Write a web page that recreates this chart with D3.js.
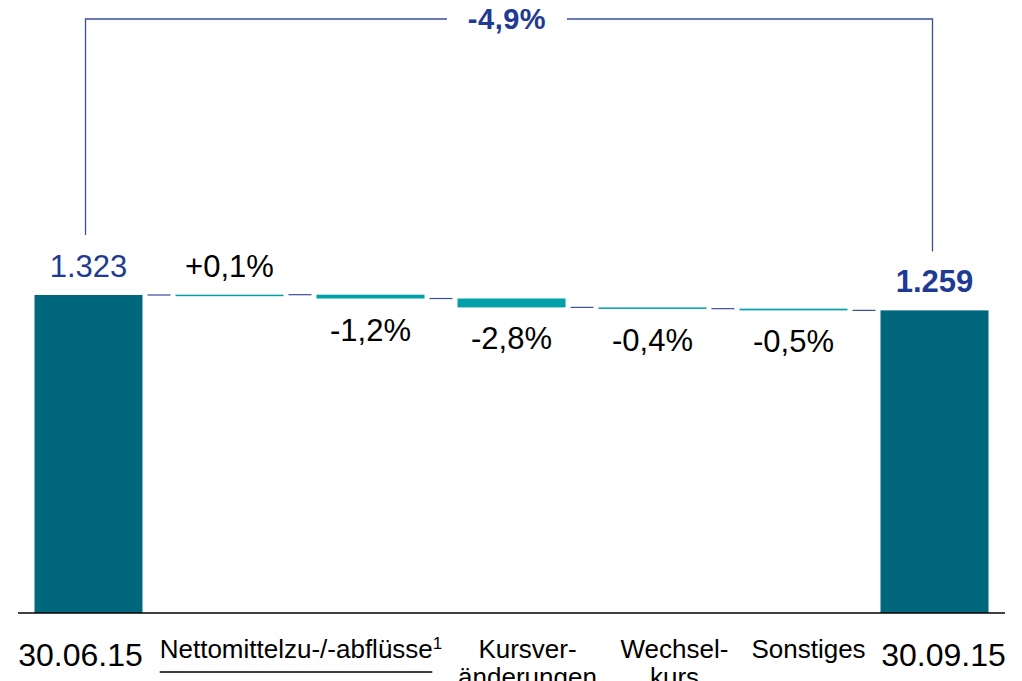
<!DOCTYPE html>
<html>
<head>
<meta charset="utf-8">
<script src="https://cdn.jsdelivr.net/npm/d3@7"></script>
<style>
  body { margin: 0; background: #fff; }
  svg text { font-family: Arial, "Liberation Sans", sans-serif; }
</style>
</head>
<body>
<div id="chart"></div>
<script>
// waterfall: AuM 30.06.15 -> 30.09.15

var barKeys   = ["start", "netto1", "netto2", "kurs", "fx", "sonst", "end"];
var startValue = 1323;
var endValue   = 1259;
var deltas     = [1.3, -15.9, -37.0, -5.3, -7.1];
var deltaLabels = ["+0,1%", "-1,2%", "-2,8%", "-0,4%", "-0,5%"];
var totalLabels = ["1.323", "1.259"];
var totalChange = "-4,9%";

// x-axis category labels (lines), and which bars each one sits under
var catLabels = [
  { lines: ["30.06.15"], bars: ["start"], big: true },
  { lines: ["Nettomittelzu-/-abflüsse"], sup: "1", bars: ["netto1", "netto2"], underline: true },
  { lines: ["Kursver-", "änderungen"], bars: ["kurs"] },
  { lines: ["Wechsel-", "kurs"], bars: ["fx"] },
  { lines: ["Sonstiges"], bars: ["sonst"] },
  { lines: ["30.09.15"], bars: ["end"], big: true }
];
// small horizontal nudges of the axis labels (layout only)
var catNudge = [-8, 1, 16, 22, 15, 9];

var width = 1022, height = 681;
var baseY = 613;

var svg = d3.select("#chart").append("svg")
    .attr("width", width)
    .attr("height", height);

var x = d3.scaleBand()
    .domain(barKeys)
    .range([18, 1005])
    .paddingInner(0.234)
    .paddingOuter(0.117);

var y = d3.scaleLinear()
    .domain([0, startValue])
    .range([baseY, 295]);

// build running totals
var rows = [];
var run = startValue;
rows.push({ key: "start", y0: 0, y1: startValue, total: true, label: totalLabels[0] });
deltas.forEach(function(d, i) {
  var from = run;
  run = run + d;
  rows.push({ key: barKeys[i + 1], y0: from, y1: run, delta: d, total: false, label: deltaLabels[i] });
});
rows.push({ key: "end", y0: 0, y1: endValue, total: true, label: totalLabels[1] });

var teal = "#00677c", aqua = "#00a0a8", blue = "#1f3a93", lineBlue = "#3a4e9e";

// bars
svg.selectAll(".bar").data(rows).enter().append("rect")
    .attr("class", "bar")
    .attr("x", function(d) { return x(d.key); })
    .attr("width", x.bandwidth())
    .attr("y", function(d) { return Math.min(y(d.y0), y(d.y1)); })
    .attr("height", function(d) { return Math.max(1.5, Math.abs(y(d.y0) - y(d.y1))); })
    .style("fill", function(d) { return d.total ? teal : aqua; });

// connectors between bars
var conns = [];
for (var i = 0; i < rows.length - 1; i++) {
  conns.push({ x1: x(rows[i].key) + x.bandwidth() + 5, x2: x(rows[i + 1].key) - 5, v: rows[i].y1 });
}
svg.selectAll(".conn").data(conns).enter().append("line")
    .attr("x1", function(d) { return d.x1; })
    .attr("x2", function(d) { return d.x2; })
    .attr("y1", function(d) { return y(d.v); })
    .attr("y2", function(d) { return y(d.v); })
    .style("stroke", lineBlue)
    .style("stroke-width", 1.2);

// value labels
svg.selectAll(".vlab").data(rows).enter().append("text")
    .attr("x", function(d) { return x(d.key) + x.bandwidth() / 2; })
    .attr("y", function(d) {
      if (d.total) return y(d.y1) - 18;
      if (d.delta >= 0) return y(d.y1) - 18;
      return y(d.y1) + 42;
    })
    .attr("text-anchor", "middle")
    .style("font-size", "31px")
    .style("font-weight", function(d) { return d.key === "end" ? "bold" : "normal"; })
    .style("fill", function(d) { return d.total ? blue : "#000"; })
    .text(function(d) { return d.label; });

// bracket showing total change
var xl = x("start") + x.bandwidth() / 2 - 3;
var xr = x("end") + x.bandwidth() / 2 - 2;
var topY = 19;
var xm = (xl + xr) / 2 - 2;
var gap = 60;
svg.append("path")
    .attr("d", "M" + xl + "," + (y(startValue) - 60) + "V" + topY + "H" + (xm - gap))
    .style("fill", "none").style("stroke", lineBlue).style("stroke-width", 1.3);
svg.append("path")
    .attr("d", "M" + (xm + gap) + "," + topY + "H" + xr + "V" + (y(endValue) - 59))
    .style("fill", "none").style("stroke", lineBlue).style("stroke-width", 1.3);
svg.append("text")
    .attr("x", xm)
    .attr("y", 29)
    .attr("text-anchor", "middle")
    .style("font-size", "29px")
    .style("font-weight", "bold")
    .style("letter-spacing", "0.5px")
    .style("fill", blue)
    .text(totalChange);

// axis baseline
svg.append("line")
    .attr("x1", 18).attr("x2", 1005)
    .attr("y1", baseY).attr("y2", baseY)
    .style("stroke", "#000").style("stroke-width", 1.3);

// category labels
catLabels.forEach(function(c, i) {
  var first = c.bars[0], last = c.bars[c.bars.length - 1];
  var cx = (x(first) + x(last) + x.bandwidth()) / 2 + catNudge[i];
  var t = svg.append("text")
      .attr("x", cx)
      .attr("y", c.big ? 666 : 658)
      .attr("text-anchor", "middle")
      .style("font-size", c.big ? "32px" : "26px")
      .style("fill", "#000");
  c.lines.forEach(function(l, j) {
    t.append("tspan").attr("x", cx).attr("dy", j === 0 ? 0 : 28).text(l);
  });
  if (c.sup) {
    t.append("tspan").attr("dy", -9).style("font-size", "17px").text(c.sup);
  }
  if (c.underline) {
    var bb = t.node().getBBox();
    svg.append("line")
        .attr("x1", bb.x).attr("x2", bb.x + bb.width - 10)
        .attr("y1", 672).attr("y2", 672)
        .style("stroke", "#000").style("stroke-width", 1.3);
  }
});
</script>
</body>
</html>
